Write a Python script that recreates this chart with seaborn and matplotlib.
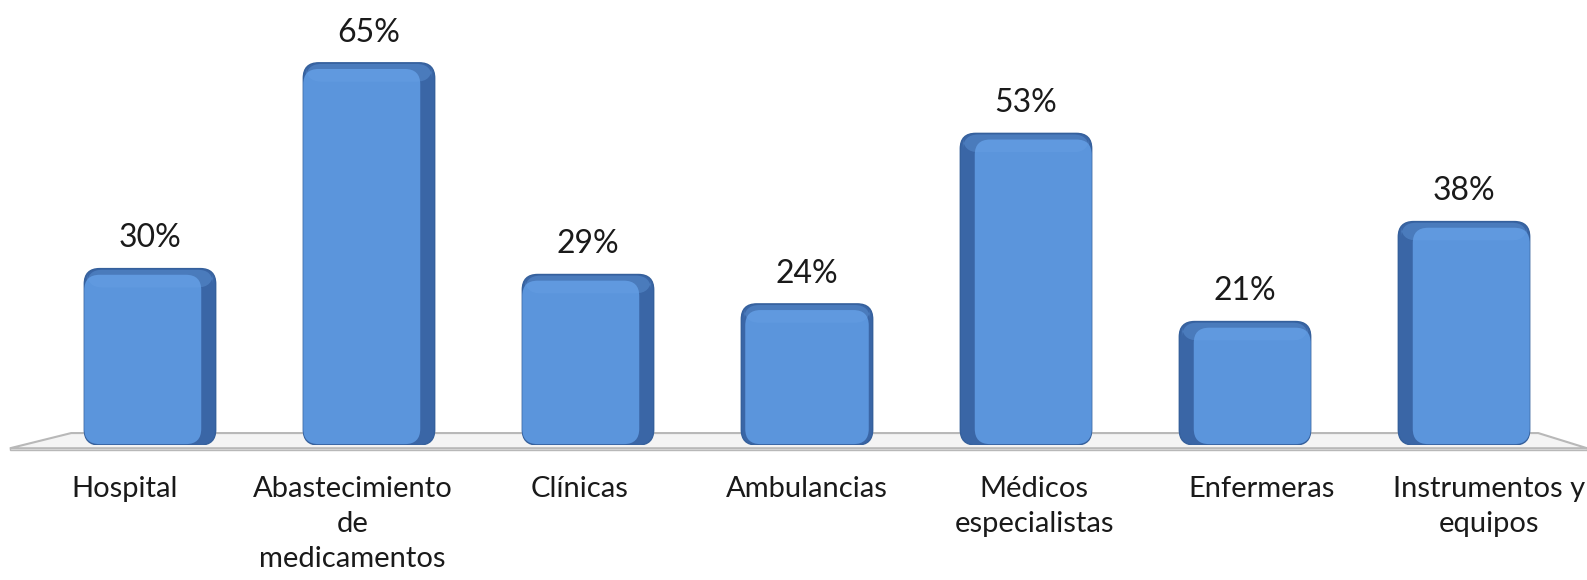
import numpy as np
import pandas as pd
import matplotlib
matplotlib.use("Agg")
import matplotlib.pyplot as plt
from matplotlib.patches import FancyBboxPatch, Polygon
import seaborn as sns

categories = ["Hospital", "Abastecimiento\nde\nmedicamentos", "Clínicas", "Ambulancias",
              "Médicos\nespecialistas", "Enfermeras", "Instrumentos y\nequipos"]
values = [30, 65, 29, 24, 53, 21, 38]
value_labels = ["30%", "65%", "29%", "24%", "53%", "21%", "38%"]

sns.set_theme(style="white")
plt.rcParams['font.family'] = ['Lato', 'DejaVu Sans']

W, H = 1587, 580
fig = plt.figure(figsize=(W / 100, H / 100), dpi=100)
ax_left, ax_right = 40.5, 1573.5
ax_bottom_px, ppu = 445, 5.88
ymax = 70
ax = fig.add_axes([ax_left / W, (H - ax_bottom_px) / H, (ax_right - ax_left) / W, ymax * ppu / H])

df = pd.DataFrame({"cat": categories, "val": values})
sns.barplot(data=df, x="cat", y="val", color="#5B95DC", width=0.6, ax=ax, zorder=3)
n = len(categories)
ax.set_xlim(-0.5, n - 0.5)
ax.set_ylim(0, ymax)

# floor
floor = Polygon([(-0.02, -0.008), (0.02, 0.029), (0.977, 0.029), (1.009, -0.008)],
                closed=True, transform=ax.transAxes, clip_on=False,
                facecolor="#f4f4f4", edgecolor="#b8b8b8", linewidth=1.5, zorder=1)
ax.add_patch(floor)
floor2 = Polygon([(-0.02, -0.008), (1.009, -0.008), (1.009, -0.013), (-0.02, -0.013)],
                 closed=True, transform=ax.transAxes, clip_on=False,
                 facecolor="#e6e6e6", edgecolor="#b8b8b8", linewidth=1.0, zorder=1)
ax.add_patch(floor2)

# rounded shaded bars replacing flat ones
xpx = (ax_right - ax_left) / n
aspect = xpx / ppu
rx = 0.07
bars = [p for p in ax.patches if not isinstance(p, Polygon)]
for i, p in enumerate(bars):
    x0, w, h = p.get_x(), p.get_width(), p.get_height()
    p.set_visible(False)
    dark = FancyBboxPatch((x0, 0), w, h, boxstyle=f"round,pad=0,rounding_size={rx}",
                          mutation_aspect=aspect, facecolor="#3A66A6", edgecolor="#35609c",
                          linewidth=1, zorder=3)
    ax.add_patch(dark)
    side = 0.11 * w
    if i < n // 2:
        fx, fw = x0, w - side
    elif i > n // 2:
        fx, fw = x0 + side, w - side
    else:
        fx, fw = x0 + 0.03 * w, w - 0.06 * w
    face = FancyBboxPatch((fx, 0.15), fw, h - 1.2, boxstyle=f"round,pad=0,rounding_size={rx}",
                          mutation_aspect=aspect, facecolor="#5B95DC", edgecolor="none", zorder=4)
    ax.add_patch(face)
    top = FancyBboxPatch((x0 + 0.02 * w, h - 3.2), w - 0.04 * w, 3.0,
                         boxstyle=f"round,pad=0,rounding_size={rx}",
                         mutation_aspect=aspect, facecolor="#6AA3E6", edgecolor="none",
                         alpha=0.35, zorder=5)
    ax.add_patch(top)
    ax.annotate(value_labels[i], (i, h), xytext=(0, 11), textcoords="offset points",
                ha="center", va="bottom", fontsize=23, color="#1a1a1a")

# category labels sit on the front edge of the floor, spread slightly wider
mid = (n - 1) / 2
ax.set_xticks([mid + (i - mid) * 1.038 for i in range(n)])
ax.set_xticklabels(categories)

for s in ax.spines.values():
    s.set_visible(False)
ax.set_yticks([])
ax.set_xlabel("")
ax.set_ylabel("")
ax.tick_params(axis="x", length=0, pad=22, labelsize=21, labelcolor="#1a1a1a")
for t in ax.get_xticklabels():
    t.set_linespacing(1.45)
ax.patch.set_alpha(0)

fig.savefig("out.png", dpi=100)
